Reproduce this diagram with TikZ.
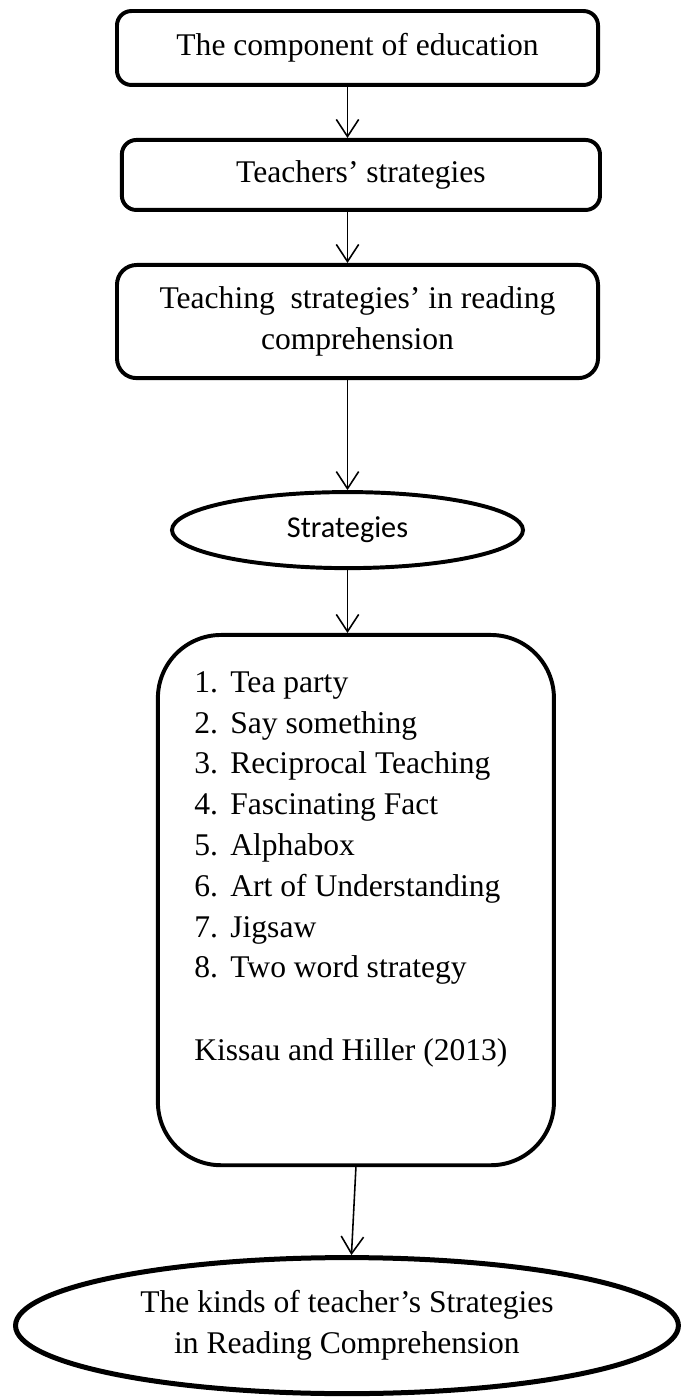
\documentclass[tikz,border=0pt]{standalone}
\usepackage{fontspec}
\setmainfont{Liberation Serif}
\newfontfamily\calibrifont{Carlito}
\usetikzlibrary{arrows.meta, positioning, shapes.geometric}

\begin{document}
\begin{tikzpicture}[x=0.38pt, y=-0.38pt, >={Straight Barb[length=6.5pt, width=8.5pt]},
  stage/.style={rectangle, rounded corners=5.5pt, draw, line width=1.5pt, minimum width=182.8pt, inner sep=0pt, align=center, font=\fontsize{12}{15.5}\selectfont},
  oval/.style={ellipse, draw, line width=1.5pt, inner sep=0pt, align=center, font=\fontsize{12}{15.5}\selectfont},
  listbox/.style={rectangle, rounded corners=24pt, draw, line width=1.5pt, minimum width=150.5pt, minimum height=201.5pt},
  arr/.style={->, line width=0.6pt}]
  \useasboundingbox (0,0) rectangle (682,1399);
  \node[stage, minimum height=28.1pt] (b1) at (357.5,48) {The component of education};
  \node[stage, minimum width=181.7pt, minimum height=26.6pt, below=19.4pt of b1, xshift=1.3pt] (b2) {Teachers’ strategies};
  \node[stage, rounded corners=7.5pt, minimum height=43pt, below=19.4pt of b2, xshift=-1.3pt] (b3) {Teaching\ \ strategies’ in reading\\comprehension};
  \node[oval, minimum width=133.4pt, minimum height=28.9pt, below=41.8pt of b3, xshift=-3.8pt, font=\calibrifont\fontsize{11.5}{14}\selectfont] (st) {Strategies};
  \node[listbox, below=23.9pt of st, xshift=3.2pt] (list) {};
  \node[anchor=north west, inner sep=0pt, font=\fontsize{12}{15.5}\selectfont] (items) at ([xshift=14.4pt, yshift=-11.5pt]list.north west) {%
    \begin{tabular}{@{}p{13.7pt}@{}l@{}}
      1. & Tea party\\
      2. & Say something\\
      3. & Reciprocal Teaching\\
      4. & Fascinating Fact\\
      5. & Alphabox\\
      6. & Art of Understanding\\
      7. & Jigsaw\\
      8. & Two word strategy\\[16pt]
      \multicolumn{2}{@{}l@{}}{Kissau and Hiller (2013)}
    \end{tabular}};
  \node[oval, line width=1.9pt, minimum width=251.9pt, minimum height=51.7pt, below=33.4pt of list, xshift=-3.4pt] (fin) {The kinds of teacher’s Strategies\\in Reading Comprehension};
  % arrows
  \draw[arr] (b1.south -| st) -- (b2.north -| st);
  \draw[arr] (b2.south -| st) -- (b3.north -| st);
  \draw[arr] (b3.south -| st) -- (st.north);
  \draw[arr] (st.south) -- (st.south |- list.north);
  \draw[arr] (list.south) -- ([xshift=1.7pt]fin.north);
\end{tikzpicture}
\end{document}
